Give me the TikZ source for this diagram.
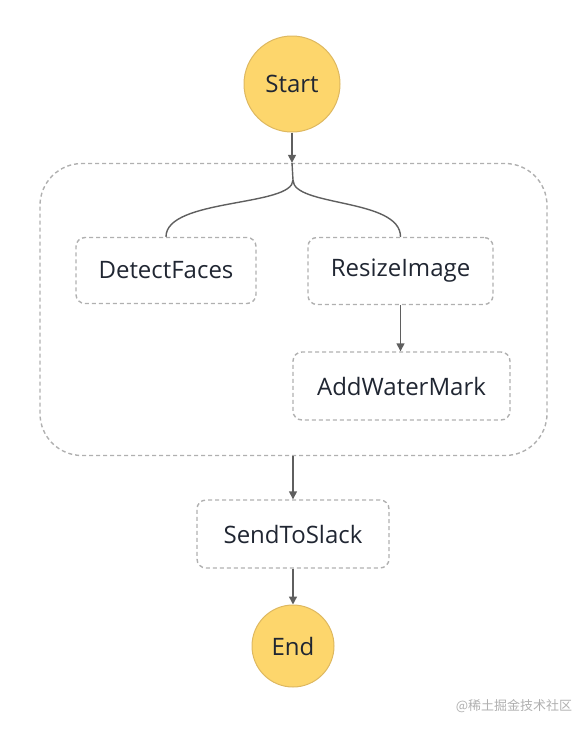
\documentclass[tikz,border=0pt]{standalone}
\usepackage{fontspec}
\setmainfont{Open Sans}
\newfontfamily\cjk{Noto Sans CJK SC}
\usetikzlibrary{arrows.meta}
\definecolor{stateyellow}{RGB}{253,214,108}
\definecolor{stateedge}{RGB}{222,184,96}
\definecolor{dashgray}{RGB}{176,176,176}
\definecolor{linegray}{RGB}{95,95,95}
\definecolor{textdark}{RGB}{32,38,50}
\begin{document}
\begin{tikzpicture}[x=1pt,y=-1pt,
    terminal/.style={circle,fill=stateyellow,draw=stateedge,line width=1pt,
        font=\fontsize{24}{28}\selectfont,text=textdark,inner sep=0pt},
    taskbox/.style={draw=dashgray,dash pattern=on 4pt off 3pt,line width=1.4pt,
        rounded corners=9pt,font=\fontsize{24}{28}\selectfont,text=textdark},
    flow/.style={draw=linegray,line width=1.4pt},
    arrow/.style={flow,-{Triangle[width=8pt,length=8pt]}}]

\def\PAGEW{587}
\def\PAGEH{732}
	\useasboundingbox (0,0) rectangle (\PAGEW,\PAGEH);

	% states
	\node[terminal,minimum size=96pt] (start) at (292,84) {Start};
	\node[taskbox,rounded corners=42pt,minimum width=507pt,minimum height=292pt] (parallel) at (293.5,309.5) {};
	\node[taskbox,minimum width=180pt,minimum height=66pt] (detect) at (166,270.5) {DetectFaces};
	\node[taskbox,minimum width=185pt,minimum height=67pt] (resize) at (400.5,271) {ResizeImage};
	\node[taskbox,minimum width=217pt,minimum height=68pt] (watermark) at (401.5,386) {AddWaterMark};
	\node[taskbox,minimum width=192pt,minimum height=68pt] (slack) at (293,534) {SendToSlack};
	\node[terminal,minimum size=82pt] (end) at (293,646) {End};

	% transitions
	\coordinate (fork) at (293,180);
	\draw[arrow] (start) -- (parallel.north -| start);
	\draw[flow] (parallel.north -| start) -- (fork);
	\draw[flow] (fork) .. controls (293,207) and (166,198) .. (detect.north);
	\draw[flow] (fork) .. controls (293,207) and (400.5,198) .. (resize.north);
	\draw[arrow] (resize) -- (watermark.north -| resize);
	\draw[arrow] (parallel.south -| slack) -- (slack);
	\draw[arrow] (slack) -- (end);

	\node[text=dashgray,font=\cjk\fontsize{13}{15}\selectfont] (mark) at (514,706) {@稀土掘金技术社区};

\end{tikzpicture}
\end{document}
